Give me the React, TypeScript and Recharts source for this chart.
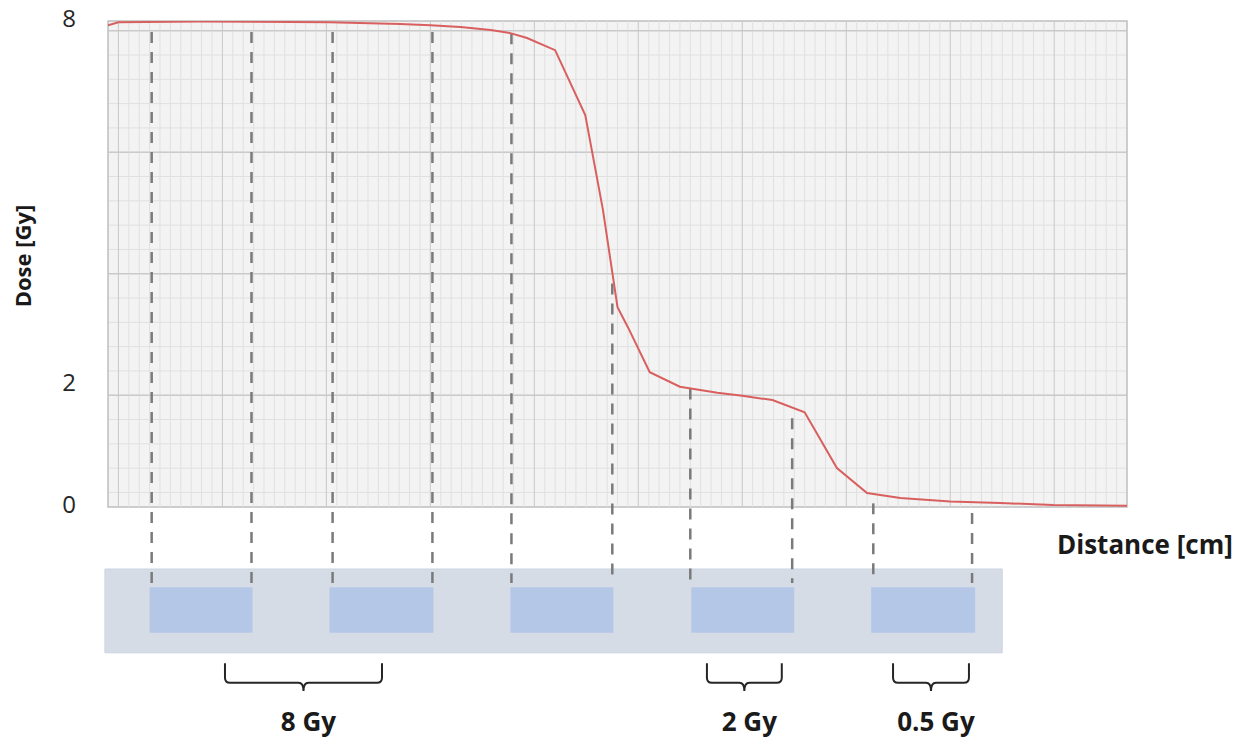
import {
  LineChart,
  Line,
  XAxis,
  YAxis,
  CartesianGrid,
  ReferenceLine,
  ReferenceArea,
} from "recharts";

// dose profile (distance in grid units, dose in Gy)
const distance = [
  -0.1, 0, 0.78, 2.03, 2.71, 3.0, 3.29, 3.58, 3.77, 3.93, 4.2, 4.49, 4.66, 4.8,
  4.9, 5.11, 5.4, 5.76, 6.0, 6.29, 6.6, 6.91, 7.2, 7.52, 8.0, 8.48, 8.99, 9.7,
];
const dose = [
  7.93, 7.98, 7.99, 7.98, 7.95, 7.93, 7.9, 7.85, 7.8, 7.72, 7.52, 6.45, 4.89,
  3.29, 2.96, 2.22, 1.98, 1.88, 1.83, 1.76, 1.56, 0.64, 0.23, 0.15, 0.09, 0.066,
  0.033, 0.02,
];
const doseTicks = [0, 2, 8];

// dashed guides from the curve down to the sample wells
const guideX = [0.32, 1.28, 2.06, 3.02, 3.78, 4.75, 5.5, 6.48, 7.26, 8.21];
const guideTop = [7.82, 7.82, 7.82, 7.82, 7.8, 3.68, 1.95, 1.46, 0.06, -0.1];
const guideBottom = -1.25;

// sample strip and wells under the plot
const stripStart = -0.13;
const stripEnd = 8.5;
const stripTop = -1.02;
const stripBottom = -2.4;
const wellStart = [0.3, 2.03, 3.77, 5.51, 7.24];
const wellEnd = [1.29, 3.03, 4.76, 6.5, 8.24];
const wellTop = -1.32;
const wellBottom = -2.07;

// braces with dose labels
const braceStart = [1.025, 5.66, 7.45];
const braceEnd = [2.535, 6.38, 8.18];
const braceLabels = ["8 Gy", "2 Gy", "0.5 Gy"];
const braceTop = -2.57;
const braceBottom = -3.03;

// graph-paper grid
const majorX = [0, 1, 2, 3, 4, 5, 6, 7, 8, 9];
const minorX = Array.from({ length: 97 }, (_, i) => i / 10).filter(
  (v) => !Number.isInteger(v)
);
const majorY = [1.84, 3.84, 5.84, 7.84];
const minorY = Array.from({ length: 20 }, (_, i) => 0.24 + i * 0.4);

const FONT = "'Open Sans', sans-serif";

const data = distance.map((d, i) => ({ distance: d, dose: dose[i] }));

function DoseTick({ x, y, payload }: any) {
  return (
    <text
      x={x}
      y={y - 4}
      textAnchor="end"
      dominantBaseline="central"
      fontSize={24}
      fontFamily={FONT}
      fill="#262626"
    >
      {payload.value}
    </text>
  );
}

function Brace({ x, y, width, height, label }: any) {
  const cx = x + width / 2;
  const bar = y + height * 0.7;
  const r = 5;
  const d =
    `M${x},${y} L${x},${bar - r} Q${x},${bar} ${x + r},${bar} ` +
    `L${cx - r},${bar} Q${cx},${bar} ${cx},${y + height} ` +
    `Q${cx},${bar} ${cx + r},${bar} L${x + width - r},${bar} ` +
    `Q${x + width},${bar} ${x + width},${bar - r} L${x + width},${y}`;
  return (
    <g>
      <path d={d} fill="none" stroke="#262626" strokeWidth={2} />
      <text
        x={cx + 5}
        y={y + height + 40}
        textAnchor="middle"
        fontSize={26}
        fontWeight={700}
        fontFamily={FONT}
        fill="#1a1a1a"
      >
        {label}
      </text>
    </g>
  );
}

export default function App() {
  return (
    <div
      style={{
        position: "absolute",
        left: 0,
        top: 0,
        width: 1252,
        height: 738,
        background: "#ffffff",
      }}
    >
      <LineChart
        width={1252}
        height={738}
        data={data}
        margin={{ top: 21, right: 125, bottom: 0, left: 0 }}
      >
        <CartesianGrid
          fill="#f3f3f3"
          stroke="#e0e0e0"
          vertical={false}
          horizontalValues={minorY}
        />
        <CartesianGrid
          stroke="#c8c8c8"
          vertical={false}
          horizontalValues={majorY}
        />
        <XAxis
          type="number"
          dataKey="distance"
          domain={[-0.1, 9.7]}
          allowDataOverflow
          height={231}
          tick={false}
          tickLine={false}
          axisLine={false}
          label={{
            content: ({ viewBox }: any) => (
              <text
                x={viewBox.x + viewBox.width - 70}
                y={viewBox.y + 47}
                fontSize={26}
                fontWeight={700}
                fontFamily={FONT}
                fill="#1a1a1a"
              >
                Distance [cm]
              </text>
            ),
          }}
        />
        <YAxis
          type="number"
          domain={[0, 8]}
          allowDataOverflow
          ticks={doseTicks}
          interval={0}
          width={108}
          tickSize={0}
          tickMargin={32}
          tickLine={false}
          axisLine={false}
          tick={<DoseTick />}
          label={{
            content: ({ viewBox }: any) => {
              const cx = viewBox.x + 22;
              const cy = viewBox.y + viewBox.height / 2 - 8;
              return (
                <text
                  x={cx}
                  y={cy}
                  transform={`rotate(-90, ${cx}, ${cy})`}
                  textAnchor="middle"
                  dominantBaseline="central"
                  fontSize={22}
                  fontWeight={700}
                  fontFamily={FONT}
                  fill="#1a1a1a"
                >
                  Dose [Gy]
                </text>
              );
            },
          }}
        />
        <ReferenceArea
          x1={stripStart}
          x2={stripEnd}
          y1={stripTop}
          y2={stripBottom}
          fill="#d6dce5"
          fillOpacity={1}
          stroke="#cdd5e2"
          ifOverflow="visible"
        />
        {wellStart.map((s, i) => (
          <ReferenceArea
            key={"well" + i}
            x1={s}
            x2={wellEnd[i]}
            y1={wellTop}
            y2={wellBottom}
            fill="#b4c7e7"
            fillOpacity={1}
            ifOverflow="visible"
          />
        ))}
        {braceStart.map((s, i) => (
          <ReferenceArea
            key={"brace" + i}
            x1={s}
            x2={braceEnd[i]}
            y1={braceTop}
            y2={braceBottom}
            ifOverflow="visible"
            shape={(p: any) => <Brace {...p} label={braceLabels[i]} />}
          />
        ))}
        {minorX.map((v) => (
          <ReferenceLine key={"mx" + v} x={v} stroke="#e0e0e0" strokeWidth={1} />
        ))}
        {majorX.map((v) => (
          <ReferenceLine key={"Mx" + v} x={v} stroke="#c8c8c8" strokeWidth={1} />
        ))}
        {majorY.map((v) => (
          <ReferenceLine key={"My" + v} y={v} stroke="#c8c8c8" strokeWidth={1} />
        ))}
        <ReferenceArea
          x1={-0.1}
          x2={9.7}
          y1={0}
          y2={8}
          fill="none"
          stroke="#bfbfbf"
          strokeWidth={1.5}
          ifOverflow="visible"
        />
        {guideX.map((gx, i) => (
          <ReferenceLine
            key={"guide" + i}
            segment={[
              { x: gx, y: guideTop[i] },
              { x: gx, y: guideBottom },
            ]}
            stroke="#7a7a7a"
            strokeWidth={2.5}
            strokeDasharray="11 9"
            ifOverflow="visible"
          />
        ))}
        <Line
          type="linear"
          dataKey="dose"
          stroke="#d95f5f"
          strokeWidth={2}
          dot={false}
          activeDot={false}
          isAnimationActive={false}
        />
      </LineChart>
    </div>
  );
}
